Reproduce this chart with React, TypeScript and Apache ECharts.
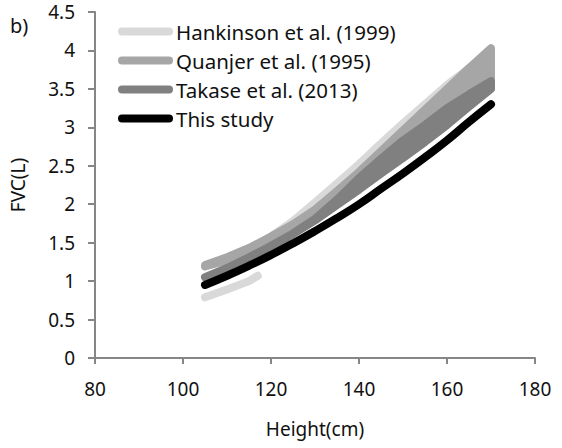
import React, { useEffect, useRef } from "react";
import * as echarts from "echarts";

// Heights (cm) where the curves were read
const HEIGHTS = [105, 110, 115, 120, 125, 130, 135, 140, 145, 150, 155, 160, 165, 170];

// This study (centre line)
const STUDY = [0.95, 1.07, 1.2, 1.34, 1.49, 1.65, 1.82, 2.0, 2.2, 2.4, 2.61, 2.83, 3.07, 3.3];

// Takase et al. (2013) band
const TAKASE_HI = [1.05, 1.17, 1.31, 1.46, 1.62, 1.81, 2.06, 2.34, 2.59, 2.83, 3.03, 3.25, 3.43, 3.6];
const TAKASE_LO = [1.05, 1.16, 1.29, 1.44, 1.61, 1.79, 1.99, 2.19, 2.4, 2.6, 2.81, 3.03, 3.27, 3.5];

// Quanjer et al. (1995) band
const QUANJER_HI = [1.21, 1.31, 1.43, 1.58, 1.74, 1.93, 2.17, 2.42, 2.69, 2.96, 3.23, 3.5, 3.77, 4.03];
const QUANJER_LO = [1.19, 1.27, 1.36, 1.47, 1.63, 1.8, 2.0, 2.2, 2.41, 2.61, 2.82, 3.04, 3.28, 3.52];

// Hankinson et al. (1999): short low segment, then a wide band
const HANK_A_H = [105, 110, 115, 117];
const HANK_A = [0.79, 0.89, 1.0, 1.07];
const HANK_B_H = [120, 125, 130, 135, 140, 145, 150, 155, 160, 165, 170];
const HANK_B_HI = [1.58, 1.78, 2.02, 2.27, 2.52, 2.79, 3.05, 3.3, 3.55, 3.77, 3.97];
const HANK_B_LO = [1.45, 1.62, 1.79, 1.99, 2.19, 2.4, 2.6, 2.81, 3.03, 3.27, 3.5];

const X_TICKS = [80, 100, 120, 140, 160, 180];
const Y_MAX = 4.5;

const NAMES = ["Hankinson et al. (1999)", "Quanjer et al. (1995)", "Takase et al. (2013)", "This study"];
const COLORS = ["#d9d9d9", "#a6a6a6", "#808080", "#000000"];

const FONT = "'Noto Sans', 'Open Sans', sans-serif";
const AXIS_COLOR = "#868686";

type Seg = { h: number[]; hi: number[]; lo: number[] };

function bandSeries(name: string, color: string, segs: Seg[], z: number) {
  const data: number[][] = [];
  segs.forEach((s) => s.h.forEach((h, i) => data.push([h, s.hi[i], s.lo[i]])));
  return {
    type: "custom",
    name,
    coordinateSystem: "cartesian2d",
    silent: true,
    z,
    itemStyle: { color },
    encode: { x: 0, y: [1, 2] },
    data,
    renderItem: (params: any, api: any) => {
      if (params.dataIndex !== 0) return null;
      const children = segs.map((s) => {
        const top = s.h.map((h, i) => api.coord([h, s.hi[i]]));
        const bot = s.h.map((h, i) => api.coord([h, s.lo[i]])).reverse();
        return {
          type: "polygon",
          shape: { points: top.concat(bot) },
          style: { fill: color, stroke: color, lineWidth: 8, lineJoin: "round" },
        };
      });
      return { type: "group", children };
    },
  };
}

export default function App() {
  const ref = useRef<HTMLDivElement>(null);
  useEffect(() => {
    if (!ref.current) return;
    const chart = echarts.init(ref.current, undefined, { renderer: "svg" });
    const legendIcon = "path://M4,0 H51 A4,4 0 0 1 51,8 H4 A4,4 0 0 1 4,0 Z";
    chart.setOption({
      animation: false,
      backgroundColor: "#ffffff",
      textStyle: { fontFamily: FONT },
      grid: { left: 93, right: 27, top: 12, bottom: 90, containLabel: false },
      legend: {
        left: 118,
        top: 21,
        padding: 0,
        orient: "vertical",
        itemWidth: 55,
        itemHeight: 8,
        itemGap: 8,
        icon: legendIcon,
        data: NAMES.map((n, i) => ({ name: n, itemStyle: { color: COLORS[i] } })),
        textStyle: { fontFamily: FONT, fontSize: 20.5, color: "#111", lineHeight: 20, padding: [0, 0, 0, -2] },
        selectedMode: false,
      },
      xAxis: {
        type: "value",
        min: X_TICKS[0],
        max: X_TICKS[X_TICKS.length - 1],
        interval: X_TICKS[1] - X_TICKS[0],
        name: "Height(cm)",
        nameLocation: "middle",
        nameGap: 61,
        nameTextStyle: { fontFamily: FONT, fontSize: 19, color: "#111" },
        axisLine: { show: true, lineStyle: { color: AXIS_COLOR, width: 2 } },
        axisTick: { show: true, length: 6, lineStyle: { color: AXIS_COLOR, width: 2 } },
        axisLabel: { fontFamily: FONT, fontSize: 19, color: "#111", margin: 21 },
        splitLine: { show: false },
      },
      yAxis: {
        type: "value",
        min: 0,
        max: Y_MAX,
        interval: 0.5,
        name: "FVC(L)",
        nameLocation: "middle",
        nameRotate: 90,
        nameGap: 68,
        nameTextStyle: { fontFamily: FONT, fontSize: 19, color: "#111" },
        axisLine: { show: true, lineStyle: { color: AXIS_COLOR, width: 2 } },
        axisTick: { show: true, length: 7, lineStyle: { color: AXIS_COLOR, width: 2 } },
        axisLabel: { fontFamily: FONT, fontSize: 19, color: "#111", margin: 20 },
        splitLine: { show: false },
      },
      graphic: [
        {
          type: "text",
          left: 10,
          top: 15,
          style: { text: "b)", font: `20px ${FONT}`, fill: "#111" },
        },
      ],
      series: [
        bandSeries(NAMES[0], COLORS[0], [
          { h: HANK_A_H, hi: HANK_A, lo: HANK_A },
          { h: HANK_B_H, hi: HANK_B_HI, lo: HANK_B_LO },
        ], 2),
        bandSeries(NAMES[1], COLORS[1], [{ h: HEIGHTS, hi: QUANJER_HI, lo: QUANJER_LO }], 3),
        bandSeries(NAMES[2], COLORS[2], [{ h: HEIGHTS, hi: TAKASE_HI, lo: TAKASE_LO }], 4),
        {
          type: "line",
          name: NAMES[3],
          z: 5,
          data: HEIGHTS.map((h, i) => [h, STUDY[i]]),
          smooth: true,
          showSymbol: false,
          silent: true,
          itemStyle: { color: COLORS[3] },
          lineStyle: { color: COLORS[3], width: 8, cap: "round", join: "round" },
        },
      ],
    });
    return () => chart.dispose();
  }, []);
  return (
    <div
      ref={ref}
      style={{ position: "fixed", left: 0, top: 0, width: 562, height: 448, background: "#fff" }}
    />
  );
}
